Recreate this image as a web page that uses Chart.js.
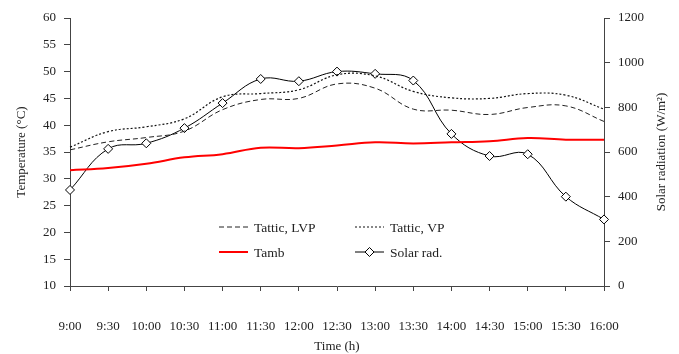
<!DOCTYPE html>
<html>
<head>
<meta charset="utf-8">
<script src="https://cdn.jsdelivr.net/npm/chart.js@4.4.0/dist/chart.umd.min.js"></script>
<style>
html, body { margin: 0; padding: 0; background: #fff; }
</style>
</head>
<body>
<canvas id="myChart" width="679" height="354"></canvas>
<script>
// data
const times = ['9:00', '9:30', '10:00', '10:30', '11:00', '11:30', '12:00', '12:30',
               '13:00', '13:30', '14:00', '14:30', '15:00', '15:30', '16:00'];
const tatticLVP = [35.4, 36.9, 37.7, 38.9, 42.9, 44.8, 45.0, 47.7, 46.9, 43.0, 42.8, 42.0, 43.3, 43.6, 40.7];
const tatticVP  = [35.9, 38.8, 39.7, 41.2, 45.3, 45.9, 46.6, 49.4, 49.2, 46.3, 45.1, 45.0, 45.9, 45.6, 43.0];
const tamb      = [31.6, 32.0, 32.8, 34.0, 34.6, 35.8, 35.7, 36.2, 36.8, 36.6, 36.8, 37.0, 37.6, 37.3, 37.3];
const solarRad  = [430, 614, 639, 707, 819, 927, 917, 960, 950, 920, 681, 582, 590, 400, 298];

const fontFamily = "'Liberation Serif', 'Times New Roman', serif";
const axisColor = '#444';
const textColor = '#222';
const rightTitle = 'Solar radiation (W/m²)';

// legend drawn inside the plot, 2 x 2 like the original
const legendItems = [
    { idx: 1, x: 219, y: 227 },
    { idx: 2, x: 355, y: 227 },
    { idx: 0, x: 219, y: 252 },
    { idx: 3, x: 355, y: 252 }
];

const innerLegend = {
    id: 'innerLegend',
    afterDraw(chart) {
        const ctx = chart.ctx;
        ctx.save();
        legendItems.forEach(item => {
            const ds = chart.data.datasets[item.idx];
            const len = 29;
            ctx.beginPath();
            ctx.strokeStyle = ds.borderColor;
            ctx.lineWidth = ds.borderWidth;
            ctx.setLineDash(ds.borderDash || []);
            ctx.moveTo(item.x, item.y);
            ctx.lineTo(item.x + len, item.y);
            ctx.stroke();
            ctx.setLineDash([]);
            if (ds.pointRadius > 0) {
                // small diamond marker
                const r = ds.pointRadius;
                const cx = item.x + len / 2, cy = item.y;
                ctx.fillStyle = ds.pointBackgroundColor;
                ctx.strokeStyle = ds.pointBorderColor;
                ctx.lineWidth = 1;
                ctx.beginPath();
                ctx.moveTo(cx, cy - r);
                ctx.lineTo(cx + r, cy);
                ctx.lineTo(cx, cy + r);
                ctx.lineTo(cx - r, cy);
                ctx.closePath();
                ctx.fill();
                ctx.stroke();
            }
            ctx.fillStyle = textColor;
            ctx.font = '13.5px ' + fontFamily;
            ctx.textBaseline = 'middle';
            ctx.textAlign = 'left';
            ctx.fillText(ds.label, item.x + 35, item.y + 1);
        });

        // right axis title reads bottom-to-top in the original
        const area = chart.chartArea;
        ctx.translate(662, (area.top + area.bottom) / 2);
        ctx.rotate(-Math.PI / 2);
        ctx.fillStyle = textColor;
        ctx.font = '13px ' + fontFamily;
        ctx.textAlign = 'center';
        ctx.textBaseline = 'middle';
        ctx.fillText(rightTitle, 0, 0);
        ctx.restore();
    }
};

const ctx = document.getElementById('myChart').getContext('2d');

new Chart(ctx, {
    type: 'line',
    data: {
        labels: times,
        datasets: [
            {
                label: 'Tamb',
                data: tamb,
                yAxisID: 'y',
                borderColor: '#ff0000',
                borderWidth: 2,
                pointRadius: 0,
                tension: 0.4,
                fill: false
            },
            {
                label: 'Tattic, LVP',
                data: tatticLVP,
                yAxisID: 'y',
                borderColor: '#222',
                borderWidth: 1,
                borderDash: [5, 3],
                pointRadius: 0,
                tension: 0.4,
                fill: false
            },
            {
                label: 'Tattic, VP',
                data: tatticVP,
                yAxisID: 'y',
                borderColor: '#111',
                borderWidth: 1.2,
                borderDash: [2, 2],
                pointRadius: 0,
                tension: 0.4,
                fill: false
            },
            {
                label: 'Solar rad.',
                data: solarRad,
                yAxisID: 'y1',
                borderColor: '#000',
                borderWidth: 1,
                pointStyle: 'rectRot',
                pointRadius: 4.5,
                pointBorderWidth: 1,
                pointBorderColor: '#000',
                pointBackgroundColor: '#fff',
                tension: 0.4,
                fill: false
            }
        ]
    },
    options: {
        responsive: false,
        animation: false,
        devicePixelRatio: 1,
        layout: { padding: { top: 18, left: 0, right: 0, bottom: 0 } },
        plugins: {
            legend: { display: false },
            tooltip: { enabled: false }
        },
        scales: {
            x: {
                offset: false,
                grid: { display: true, drawOnChartArea: false, drawTicks: true, tickLength: 5, color: axisColor, offset: false },
                border: { display: true, color: axisColor, width: 1 },
                ticks: { color: textColor, font: { family: fontFamily, size: 13 }, padding: 28, maxRotation: 0, autoSkip: false },
                title: { display: true, text: 'Time (h)', color: textColor, font: { family: fontFamily, size: 13 }, padding: { top: 0, bottom: 0 } },
                afterFit(scale) { scale.height = 68; }
            },
            y: {
                position: 'left',
                min: 10,
                max: 60,
                ticks: { stepSize: 5, color: textColor, font: { family: fontFamily, size: 13 }, padding: 8 },
                grid: { display: true, drawOnChartArea: false, drawTicks: true, tickLength: 6, color: axisColor },
                border: { display: true, color: axisColor, width: 1 },
                title: { display: true, text: 'Temperature (°C)', color: textColor, font: { family: fontFamily, size: 13 }, padding: { top: 14, bottom: 0 } },
                afterFit(scale) { scale.width = 70; }
            },
            y1: {
                position: 'right',
                min: 0,
                max: 1200,
                ticks: {
                    stepSize: 200,
                    color: textColor,
                    font: { family: fontFamily, size: 13 },
                    padding: 8,
                    callback: v => String(v)
                },
                grid: { display: true, drawOnChartArea: false, drawTicks: true, tickLength: 6, color: axisColor },
                border: { display: true, color: axisColor, width: 1 },
                title: { display: false },
                afterFit(scale) { scale.width = 75; }
            }
        }
    },
    plugins: [innerLegend]
});
</script>
</body>
</html>
